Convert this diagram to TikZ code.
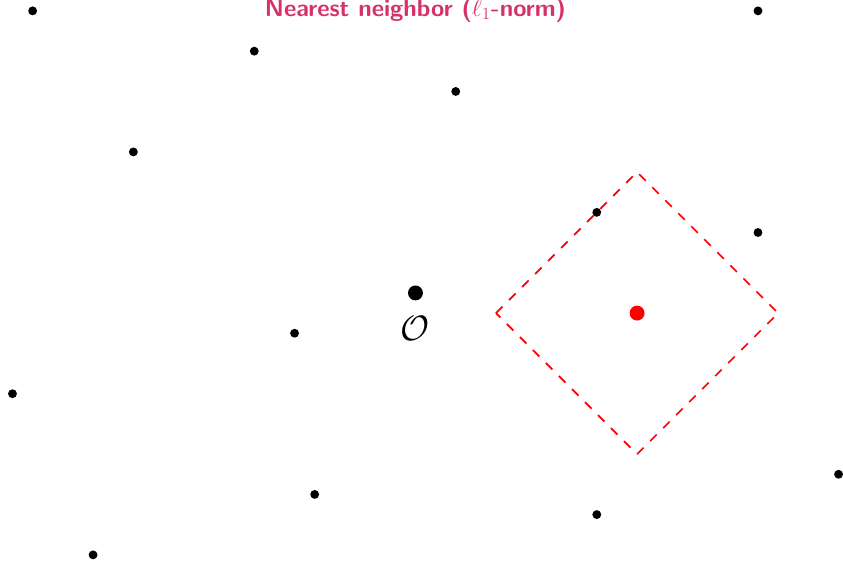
\documentclass[tikz,border=0pt]{standalone}
\usepackage{amsmath}
\definecolor{titlecol}{RGB}{213,51,102}
\tikzset{
  pt/.style={circle,fill=black,inner sep=0pt,minimum size=0.22cm},
  bigpt/.style={circle,fill=black,inner sep=0pt,minimum size=0.37cm},
  qpt/.style={circle,fill=red,inner sep=0pt,minimum size=0.37cm},
  ball/.style={red,line width=1.2pt,dash pattern=on 6.5pt off 6.5pt}
}
\begin{document}
\begin{tikzpicture}[x=0.5cm,y=0.5cm]
\useasboundingbox (-20.62,-13.3) rectangle (21.22,14.54);
\node[titlecol,font=\fontsize{17}{20}\selectfont\sffamily\bfseries] (title) at (0,14.03) {Nearest neighbor ($\ell_1$-norm)};
\node[pt] (p1) at (-19,14) {};
\node[pt] (p2) at (-8,12) {};
\node[pt] (p3) at (2,10) {};
\node[pt] (p4) at (17,14) {};
\node[pt] (p5) at (-14,7) {};
\node[pt] (p6) at (9,4) {};
\node[pt] (p7) at (17,3) {};
\node[pt] (p8) at (-6,-2) {};
\node[pt] (p9) at (-20,-5) {};
\node[pt] (p10) at (21,-9) {};
\node[pt] (p11) at (-5,-10) {};
\node[pt] (p12) at (9,-11) {};
\node[pt] (p13) at (-16,-13) {};
\node[bigpt] (o) at (0,0) {};
\node[font=\fontsize{30}{36}\selectfont] (olabel) at (0,-1.75) {$\mathcal{O}$};
\node[qpt] (q) at (11,-1) {};
\coordinate (top) at (11,6);
\coordinate (right) at (18,-1);
\coordinate (bottom) at (11,-8);
\coordinate (left) at (4,-1);
\draw[ball] (left) -- (top) -- (right) -- (bottom) -- cycle;
\end{tikzpicture}
\end{document}
